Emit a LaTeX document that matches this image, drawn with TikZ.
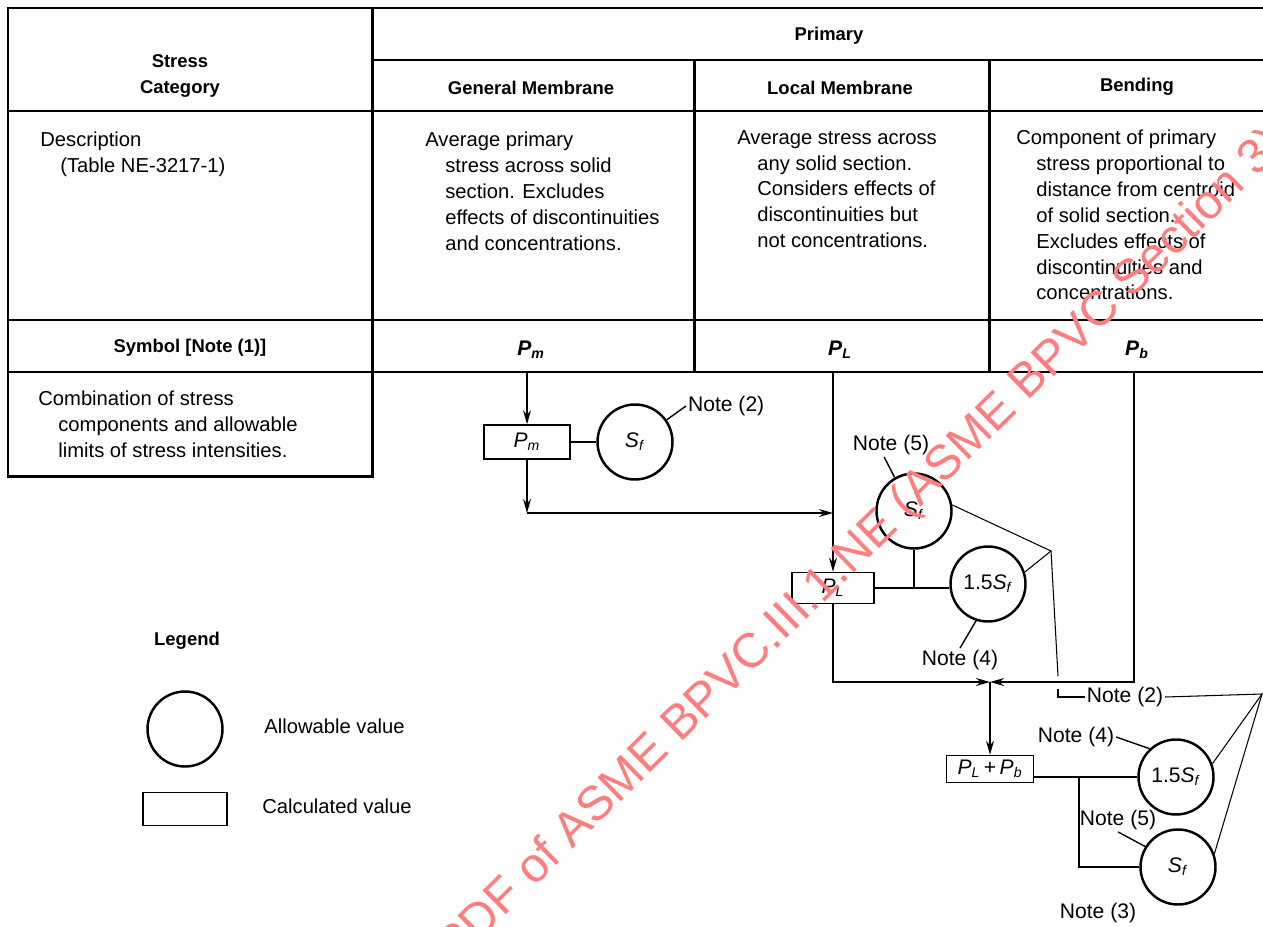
\documentclass[tikz,border=0pt]{standalone}
\usepackage{fontspec}
\setmainfont{Liberation Sans}
\usetikzlibrary{arrows.meta}
\definecolor{wmred}{RGB}{255,125,125}
\newcommand{\hind}{\hspace*{0.4cm}}
\newcommand{\symb}[2]{\textbf{\textit{#1}\textsubscript{\textit{#2}}}}
\newcommand{\sv}[2]{\textit{#1}\textsubscript{\textit{#2}}}

\begin{document}
\begin{tikzpicture}[x=0.02cm, y=-0.02cm,
    grid/.style={line width=1.7pt, line cap=rect},
    link/.style={line width=0.8pt},
    flow/.style={link, -{Stealth[length=8pt, width=4.5pt]}},
    allowcirc/.style={circle, draw, line width=1.4pt, minimum size=1.5cm, inner sep=0pt, font=\fontsize{12}{14}\selectfont},
    calcbox/.style={draw, line width=0.8pt, inner sep=0pt, font=\fontsize{12}{14}\selectfont},
    head/.style={font=\fontsize{10.5}{14.7}\selectfont\bfseries, align=center},
    desc/.style={font=\fontsize{11.5}{14.7}\selectfont, align=left, anchor=north west, inner sep=0pt},
    note/.style={font=\fontsize{12}{14}\selectfont, inner sep=1pt}]

\useasboundingbox (0,0) rectangle (1263,926);
\clip (0,0) rectangle (1263,926);

% table
\draw[grid] (1263,8) -- (8,8) -- (8,476) -- (372,476) -- (372,8);
\foreach \y in {111,320,372}
    \draw[grid] (8,\y) -- (1263,\y);
\draw[grid] (372,60) -- (1263,60);
\foreach \x in {694,989}
    \draw[grid] (\x,60) -- (\x,372);

\node[head] (cat) at (180,76) {Stress\\Category};
\node[head] (prim) at (829,36) {Primary};
\node[head] (gmem) at (531,88) {General Membrane};
\node[head] (lmem) at (840,88) {Local Membrane};
\node[head] (bend) at (1137,87) {Bending};

\node[desc] (dscr) at (40,132) {Description\\\hind(Table NE-3217-1)};
\node[desc] (dgm) at (425,132) {Average primary\\\hind stress across solid\\\hind section. Excludes\\
    \hind effects of discontinuities\\\hind and concentrations.};
\node[desc] (dlm) at (737,130) {Average stress across\\\hind any solid section.\\\hind Considers effects of\\
    \hind discontinuities but\\\hind not concentrations.};
\node[desc] (dbd) at (1016,130) {Component of primary\\\hind stress proportional to\\\hind distance from centroid\\
    \hind of solid section.\\\hind Excludes effects of\\\hind discontinuities and\\\hind concentrations.};

\node[head] (symb) at (190,348) {Symbol [Note (1)]};
\node[head, font=\fontsize{12}{14}\selectfont] (pm) at (531,350) {\symb{P}{m}};
\node[head, font=\fontsize{12}{14}\selectfont] (pl) at (840,350) {\symb{P}{L}};
\node[head, font=\fontsize{12}{14}\selectfont] (pb) at (1137,350) {\symb{P}{b}};

\node[desc] (comb) at (38,391) {Combination of stress\\\hind components and allowable\\\hind limits of stress intensities.};

% legend
\node[head] (leg) at (187,641) {Legend};
\node[allowcirc] (lcirc) at (185,729) {};
\node[calcbox, minimum width=1.68cm, minimum height=0.66cm] (lbox) at (185,809) {};
\node[desc, anchor=west] (lallow) at (264,726) {Allowable value};
\node[desc, anchor=west] (lcalc) at (262,806) {Calculated value};

% general membrane
\coordinate (pmtop) at (527,372);
\node[calcbox, minimum width=1.72cm, minimum height=0.68cm] (bpm) at (527,442) {\sv{P}{m}};
\node[allowcirc] (c1) at (635,442) {\sv{S}{f}};
\node[note, anchor=west] (n2a) at (686,406) {Note (2)};
\draw[flow] (pmtop) -- (bpm);
\draw[link] (bpm) -- (c1);
\draw[link] (c1.35) -- (n2a.west);
\coordinate (j1) at (527,513);
\coordinate (j2) at (833,513);
\draw[flow] (bpm) -- (j1);
\draw[flow] (j1) -- (j2);

% local membrane
\coordinate (pltop) at (833,372);
\node[calcbox, minimum width=1.64cm, minimum height=0.62cm] (bpl) at (833,588) {\sv{P}{L}};
\node[allowcirc] (c2) at (914,511) {\sv{S}{f}};
\node[allowcirc] (c3) at (988,584) {1.5\sv{S}{f}};
\node[note] (n5a) at (891,445) {Note (5)};
\node[note] (n4a) at (960,660) {Note (4)};
\draw[flow] (pltop) -- (bpl);
\draw[link] (bpl.east) -- (bpl.east -| c3.west);
\draw[link] (c2.south) -- (c2.south |- bpl.east);
\draw[link] (n5a.240) -- (c2.120);
\draw[link] (n4a.north) -- (c3.252);

\coordinate (k1) at (1051,551);
\coordinate (k2) at (1058,676);
\coordinate (k3) at (1058,689);
\node[note] (n2b) at (1125,697) {Note (2)};
\draw[link, line width=0.6pt] (c2.9) -- (k1) -- (c3.18);
\draw[link, line width=0.6pt] (k1) -- (k2);
\draw[link, line width=0.6pt] (k3) |- (n2b.west);

% bending
\coordinate (pbtop) at (1134,372);
\coordinate (m2) at (990,682);
\draw[flow] (bpl) |- (m2);
\draw[flow] (pbtop) |- (m2);

\node[calcbox, minimum width=1.74cm, minimum height=0.54cm] (bplb) at (990,769) {\sv{P}{L}\,+\,\sv{P}{b}};
\node[allowcirc] (c4) at (1176,777) {1.5\sv{S}{f}};
\node[allowcirc] (c5) at (1178,867) {\sv{S}{f}};
\node[note] (n4b) at (1076,737) {Note (4)};
\node[note] (n5b) at (1118,820) {Note (5)};
\node[note] (n3) at (1098,913) {Note (3)};
\draw[flow] (m2) -- (bplb);
\draw[link] (bplb.east |- c4.west) -- (c4.west);
\coordinate (q1) at (1079,777);
\draw[link] (q1) |- (c5.west);
\draw[link] (n4b.east) -- (c4.133);
\draw[link] (n5b.south) -- (c5.148);

\coordinate (n2r) at (1262,694);
\draw[link, line width=0.6pt] (n2b.east) -- (n2r) -- (c4.20);
\draw[link, line width=0.6pt] (n2r) -- (c5.20);

% watermark
\node[rotate=44.5, anchor=base west, inner sep=0pt, text=wmred,
    font=\fontsize{27.6}{30}\selectfont] (wmark) at (455,965)
    {PDF of ASME BPVC.III.1.NE (ASME BPVC Section 3)};
\end{tikzpicture}
\end{document}
